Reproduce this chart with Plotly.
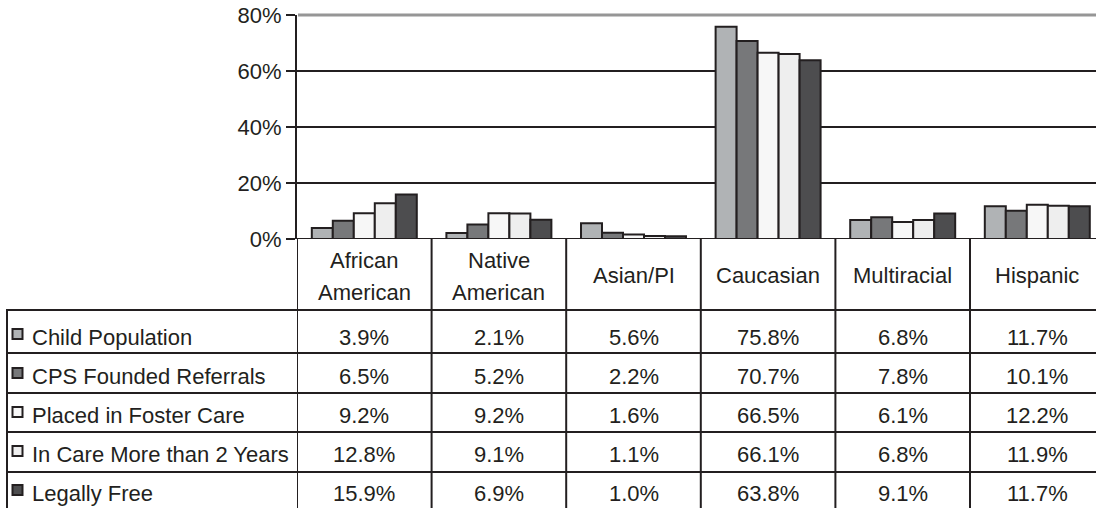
import plotly.graph_objects as go

# ---------------- data ----------------
categories = ["African American", "Native American", "Asian/PI",
              "Caucasian", "Multiracial", "Hispanic"]
header_lines = [["African", "American"], ["Native", "American"], ["Asian/PI"],
                ["Caucasian"], ["Multiracial"], ["Hispanic"]]
series_names = ["Child Population", "CPS Founded Referrals",
                "Placed in Foster Care", "In Care More than 2 Years", "Legally Free"]
child_population = [3.9, 2.1, 5.6, 75.8, 6.8, 11.7]
cps_founded_referrals = [6.5, 5.2, 2.2, 70.7, 7.8, 10.1]
placed_in_foster_care = [9.2, 9.2, 1.6, 66.5, 6.1, 12.2]
in_care_more_than_2_years = [12.8, 9.1, 1.1, 66.1, 6.8, 11.9]
legally_free = [15.9, 6.9, 1.0, 63.8, 9.1, 11.7]
series_values = [child_population, cps_founded_referrals, placed_in_foster_care,
                 in_care_more_than_2_years, legally_free]
y_ticks = [0, 20, 40, 60, 80]
y_tick_labels = [f"{v}%" for v in y_ticks]

# ---------------- style ----------------
colors = ["#b0b3b5", "#77787a", "#f7f7f7", "#eeeeee", "#4d4d4f"]
dark = "#231f20"
W, H = 1096, 508
FONT = "Liberation Sans, Arial, sans-serif"
FS = 22


def px(x):
    return x / W


def py(y):
    return 1 - y / H


fig = go.Figure()
for name, vals, col in zip(series_names, series_values, colors):
    fig.add_trace(go.Bar(
        x=categories, y=vals, name=name,
        marker=dict(color=col, line=dict(color=dark, width=2)),
        showlegend=False,
    ))

x_left = 297
y_top, y_base = 15, 239
cat_w = 134.6
x_end = -0.5 + (W - x_left) / cat_w

fig.update_layout(
    width=W, height=H,
    margin=dict(l=0, r=0, t=0, b=0, autoexpand=False),
    paper_bgcolor="white", plot_bgcolor="white",
    barmode="group", bargap=0.22, bargroupgap=0,
    font=dict(family=FONT, color=dark, size=FS),
    xaxis=dict(domain=[px(x_left), 1], range=[-0.5, x_end],
               showticklabels=False, ticks="", showgrid=False,
               showline=False, zeroline=False, fixedrange=True,
               automargin=False),
    yaxis=dict(domain=[py(y_base), py(y_top)], range=[0, 80],
               tickvals=y_ticks, ticktext=y_tick_labels,
               showgrid=True, gridcolor=dark, gridwidth=2,
               showline=True, linecolor=dark, linewidth=2,
               ticks="outside", ticklen=9, tickwidth=2, tickcolor=dark,
               zeroline=False, automargin=False,
               tickfont=dict(size=FS, color=dark, family=FONT)),
)

shapes = []
annotations = []

# top gridline (upper edge of the value axis) in gray
shapes.append(dict(type="line", xref="paper", yref="paper", x0=px(x_left + 1), x1=1,
                   y0=py(y_top), y1=py(y_top), line=dict(color="#969696", width=3),
                   layer="above"))
# 0% baseline
shapes.append(dict(type="line", xref="paper", yref="y", x0=px(x_left - 9), x1=1,
                   y0=0, y1=0, line=dict(color=dark, width=2), layer="above"))

# ---------------- data table ----------------
row_borders = [310, 353, 393, 432, 472]
row_text_y = [337, 376, 415, 454, 493]
table_bottom = 520

# vertical lines: axis continuation and category boundaries
for i in range(len(categories) + 1):
    shapes.append(dict(type="line", xref="x", yref="paper", x0=i - 0.5, x1=i - 0.5,
                       y0=py(y_base), y1=py(table_bottom), line=dict(color=dark, width=2)))
# left table border
shapes.append(dict(type="line", xref="paper", yref="paper", x0=px(7), x1=px(7),
                   y0=py(310), y1=py(table_bottom), line=dict(color=dark, width=2)))
# horizontal lines
for yb in row_borders:
    shapes.append(dict(type="line", xref="paper", yref="paper", x0=px(6), x1=1,
                       y0=py(yb), y1=py(yb), line=dict(color=dark, width=2)))

# header labels
for i, lines in enumerate(header_lines):
    if len(lines) == 1:
        ys = [275]
    else:
        ys = [260, 292]
    for txt, yy in zip(lines, ys):
        annotations.append(dict(xref="x", yref="paper", x=i, y=py(yy),
                                text=txt, showarrow=False, xanchor="center",
                                yanchor="middle", font=dict(size=FS, color=dark)))

# rows
for r, (name, vals, col) in enumerate(zip(series_names, series_values, colors)):
    yc = row_text_y[r]
    # legend key
    shapes.append(dict(type="rect", xref="paper", yref="paper",
                       x0=px(12.5), x1=px(22.5), y0=py(yc - 8), y1=py(yc + 2),
                       fillcolor=col, line=dict(color=dark, width=2)))
    annotations.append(dict(xref="paper", yref="paper", x=px(30), y=py(yc),
                            text=name, showarrow=False, xanchor="left",
                            yanchor="middle", font=dict(size=FS, color=dark)))
    for i, v in enumerate(vals):
        annotations.append(dict(xref="x", yref="paper", x=i, y=py(yc),
                                text=f"{v:.1f}%", showarrow=False, xanchor="center",
                                yanchor="middle", font=dict(size=FS, color=dark)))

fig.update_layout(shapes=shapes, annotations=annotations)
fig.write_html("out.html", config={"displayModeBar": False},
               post_script="document.body.style.margin='0';")
